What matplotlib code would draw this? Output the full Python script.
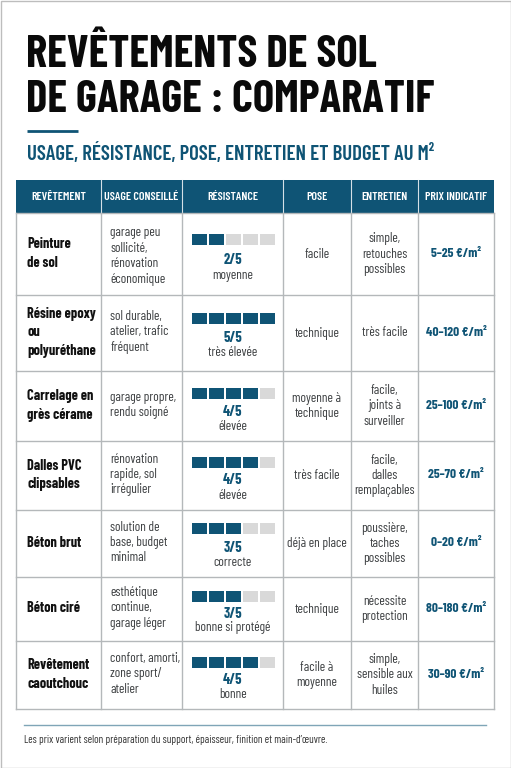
import matplotlib
matplotlib.use("Agg")
import matplotlib.pyplot as plt
from matplotlib.patches import Rectangle

plt.rcParams['font.family'] = ['Barlow Condensed', 'Roboto Condensed', 'Liberation Sans', 'DejaVu Sans']

BLUE = '#0f5475'
GREY = '#d9d9d9'
LINE = '#b4b8ba'

headers = ['REVÊTEMENT', 'USAGE CONSEILLÉ', 'RÉSISTANCE', 'POSE', 'ENTRETIEN', 'PRIX INDICATIF']
revetements = ['Peinture\nde sol', 'Résine epoxy\nou\npolyuréthane', 'Carrelage en\ngrès cérame',
               'Dalles PVC\nclipsables', 'Béton brut', 'Béton ciré', 'Revêtement\ncaoutchouc']
usages = ['garage peu\nsollicité,\nrénovation\néconomique', 'sol durable,\natelier, trafic\nfréquent',
          'garage propre,\nrendu soigné', 'rénovation\nrapide, sol\nirrégulier',
          'solution de\nbase, budget\nminimal', 'esthétique\ncontinue,\ngarage léger',
          'confort, amorti,\nzone sport/\natelier']
scores = [2, 5, 4, 4, 3, 3, 4]
niveaux = ['moyenne', 'très élevée', 'élevée', 'élevée', 'correcte', 'bonne si protégé', 'bonne']
poses = ['facile', 'technique', 'moyenne à\ntechnique', 'très facile', 'déjà en place', 'technique', 'facile à\nmoyenne']
entretiens = ['simple,\nretouches\npossibles', 'très facile', 'facile,\njoints à\nsurveiller',
              'facile,\ndalles\nremplaçables', 'poussière,\ntaches\npossibles', 'nécessite\nprotection',
              'simple,\nsensible aux\nhuiles']
prix = ['5–25 €/m²', '40–120 €/m²', '25–100 €/m²', '25–70 €/m²', '0–20 €/m²', '80–180 €/m²', '30–90 €/m²']

col_x = [16, 101, 182, 283, 351, 418, 494]
row_y = [213, 295, 371, 441, 510, 577, 641, 709]
head_top = 180
usage_dy = [3, 0, 0, 0, 0, 0, 0]
bar_dy = [0, 0, 2, 1.5, -1, 2, 2]
score_dy = [0, -1, 0, -1.5, -2.5, -2, -2]
level_dy = [0, -1, 0, -1, -2, -2, -2]

fig = plt.figure(figsize=(5.11, 7.68), dpi=100, facecolor='white')
ax = fig.add_axes([0, 0, 1, 1])
ax.set_xlim(0, 511)
ax.set_ylim(768, 0)
ax.axis('off')

ax.add_patch(Rectangle((0.5, 0.5), 510, 767, fill=False, ec='#bdbdbd', lw=1))

ax.text(26, 54.5, 'REVÊTEMENTS DE SOL', fontsize=32.3, fontweight='bold', color='#0a0a0a', va='center', ha='left')
ax.text(26, 100, 'DE GARAGE : COMPARATIF', fontsize=32.3, fontweight='bold', color='#0a0a0a', va='center', ha='left')
ax.plot([27, 78], [131, 131], color=BLUE, lw=2, solid_capstyle='butt')
ax.text(27, 153.5, 'USAGE, RÉSISTANCE, POSE, ENTRETIEN ET BUDGET AU M²', fontsize=14.95, fontweight='semibold',
        color=BLUE, va='center', ha='left')

ax.add_patch(Rectangle((col_x[0], head_top), col_x[-1] - col_x[0], row_y[0] - head_top, fc=BLUE, ec='none'))
for i, h in enumerate(headers):
    ax.text((col_x[i] + col_x[i + 1]) / 2, (head_top + row_y[0]) / 2 + 0.5, h, color='white', fontsize=8.6,
            fontweight='semibold', ha='center', va='center')
    if i:
        ax.plot([col_x[i]] * 2, [head_top, row_y[0]], color='#d5e0e6', lw=0.8)

for y in row_y:
    ax.plot([col_x[0], col_x[-1]], [y, y], color=LINE, lw=1)
for x in col_x:
    ax.plot([x, x], [row_y[0], row_y[-1]], color=LINE, lw=1)

BODY = '#3c3f41'
for r in range(7):
    top, bot = row_y[r], row_y[r + 1]
    cy = (top + bot) / 2
    ax.text(27, cy - 0.5, revetements[r], fontsize=10.3, fontweight='bold', color='#111111', va='center', ha='left', linespacing=1.4)
    ax.text(110.5, cy - 1 + usage_dy[r], usages[r], fontsize=9.6, color=BODY, va='center', ha='left', linespacing=1.24)
    ax.text((col_x[3] + col_x[4]) / 2, cy, poses[r], fontsize=9.6, color=BODY, va='center', ha='center', linespacing=1.28)
    ax.text((col_x[4] + col_x[5]) / 2, cy, entretiens[r], fontsize=9.6, color=BODY, va='center', ha='center', linespacing=1.24)
    ax.text((col_x[5] + col_x[6]) / 2, cy - 0.5, prix[r], fontsize=9.6, fontweight='bold', color=BLUE, va='center', ha='center')
    by = cy - 20 + bar_dy[r]
    for k in range(5):
        ax.add_patch(Rectangle((192 + k * 17.1, by), 15, 11, fc=BLUE if k < scores[r] else GREY, ec='none'))
    ax.text(232.5, cy + 6.5 + score_dy[r], f'{scores[r]}/5', fontsize=10.4, fontweight='bold', color=BLUE, va='center', ha='center')
    ax.text(233, cy + 21 + level_dy[r], niveaux[r], fontsize=9.6, color=BODY, va='center', ha='center')

ax.plot([24, 486], [725, 725], color='#7fa5b7', lw=1)
ax.text(24, 740, 'Les prix varient selon préparation du support, épaisseur, finition et main-d’œuvre.',
        fontsize=7.9, color='#333333', va='center', ha='left')

fig.savefig('out.png', dpi=100, facecolor='white')
